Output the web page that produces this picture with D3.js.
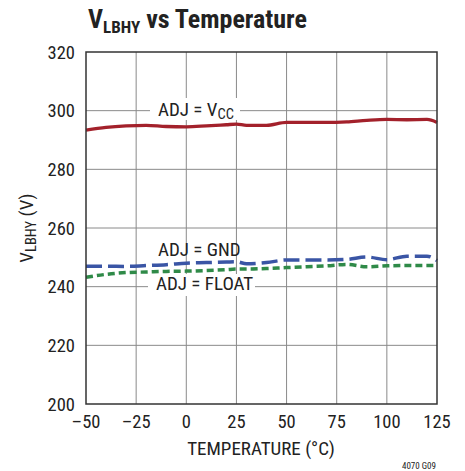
<!DOCTYPE html>
<html>
<head>
<meta charset="utf-8">
<script src="https://cdn.jsdelivr.net/npm/d3@7"></script>
<style>
  body { margin: 0; background: #fff; }
  text { font-family: "Liberation Sans Narrow", "Roboto Condensed", "Liberation Sans", sans-serif; fill: #222; }
</style>
</head>
<body>
<svg id="chart" width="465" height="471"></svg>
<script>
// Data
const temps = [-50, -40, -30, -20, -10, 0, 10, 20, 25, 30, 40, 50, 60, 70, 80, 90, 100, 110, 120, 125];
const vccSeries = [293.4, 294.3, 294.8, 295.0, 294.6, 294.5, 294.8, 295.2, 295.4, 295.0, 295.0, 296.0, 296.0, 296.0, 296.2, 296.7, 297.0, 296.9, 297.0, 296.0];
const gndSeries = [247.0, 247.0, 246.9, 247.2, 247.5, 248.0, 248.2, 248.4, 248.5, 247.8, 248.2, 249.1, 249.1, 249.1, 249.3, 250.1, 249.2, 250.4, 250.4, 248.9];
const floatSeries = [243.2, 244.2, 244.8, 245.0, 245.2, 245.3, 245.5, 245.8, 246.0, 246.0, 246.2, 246.5, 246.8, 247.1, 247.6, 246.8, 247.1, 247.2, 247.2, 247.2];
const xTicks = [-50, -25, 0, 25, 50, 75, 100, 125];
const yTicks = [200, 220, 240, 260, 280, 300, 320];

const svg = d3.select("#chart");

const plotL = 86, plotR = 437, plotT = 52, plotB = 404;

const x = d3.scaleLinear().domain([-50, 125]).range([plotL, plotR]);
const y = d3.scaleLinear().domain([200, 320]).range([plotB, plotT]);

// Grid
svg.append("g")
  .selectAll("line")
  .data(xTicks.slice(1, -1))
  .join("line")
  .attr("x1", d => x(d)).attr("x2", d => x(d))
  .attr("y1", plotT).attr("y2", plotB)
  .attr("stroke", "#8a8a8a").attr("stroke-width", 1);

svg.append("g")
  .selectAll("line")
  .data(yTicks.slice(1, -1))
  .join("line")
  .attr("x1", plotL).attr("x2", plotR)
  .attr("y1", d => y(d)).attr("y2", d => y(d))
  .attr("stroke", "#8a8a8a").attr("stroke-width", 1);

// Series lines
const line = d3.line()
  .x((d, i) => x(temps[i]))
  .y(d => y(d))
  .curve(d3.curveMonotoneX);

svg.append("path").datum(vccSeries)
  .attr("d", line).attr("fill", "none")
  .attr("stroke", "#a3212b").attr("stroke-width", 3.3);

svg.append("path").datum(gndSeries)
  .attr("d", line).attr("fill", "none")
  .attr("stroke", "#3a55a5").attr("stroke-width", 3.5)
  .attr("stroke-dasharray", "16,6");

svg.append("path").datum(floatSeries)
  .attr("d", line).attr("fill", "none")
  .attr("stroke", "#2f8a48").attr("stroke-width", 3.5)
  .attr("stroke-dasharray", "7,4");

// Frame
svg.append("rect")
  .attr("x", plotL).attr("y", plotT)
  .attr("width", plotR - plotL).attr("height", plotB - plotT)
  .attr("fill", "none").attr("stroke", "#333").attr("stroke-width", 1.5);

// Series labels (white boxes interrupt the grid)
function label(tx, ty, parts, box) {
  if (box) {
    svg.append("rect")
      .attr("x", box[0]).attr("y", box[1])
      .attr("width", box[2]).attr("height", box[3])
      .attr("fill", "#fff");
  }
  const t = svg.append("text")
    .attr("x", tx).attr("y", ty)
    .attr("font-size", "19px");
  parts.forEach(p => {
    t.append("tspan")
      .attr("font-size", p.sub ? "14.5px" : null)
      .attr("dy", p.dy || 0)
      .text(p.t);
  });
}

label(158, 116, [{ t: "ADJ = V" }, { t: "CC", sub: true, dy: 3 }], [150, 98, 90, 22]);
label(158, 256, [{ t: "ADJ = GND" }], null);
label(156, 290, [{ t: "ADJ = FLOAT" }], [148, 274, 107, 22]);

// Axis tick labels
svg.append("g")
  .selectAll("text")
  .data(yTicks)
  .join("text")
  .attr("x", 75).attr("y", d => y(d) + 6.5)
  .attr("text-anchor", "end")
  .attr("font-size", "18.5px")
  .text(d => d);

svg.append("g")
  .selectAll("text")
  .data(xTicks)
  .join("text")
  .attr("x", d => x(d)).attr("y", 428)
  .attr("text-anchor", "middle")
  .attr("font-size", "18.5px")
  .text(d => d < 0 ? "\u2013" + Math.abs(d) : d);

// Axis titles
svg.append("text")
  .attr("x", 261).attr("y", 455)
  .attr("text-anchor", "middle")
  .attr("font-size", "19px")
  .text("TEMPERATURE (\u00b0C)");

const yt = svg.append("text")
  .attr("transform", "translate(33,228) rotate(-90)")
  .attr("text-anchor", "middle")
  .attr("font-size", "19px");
yt.append("tspan").text("V");
yt.append("tspan").attr("font-size", "14.5px").attr("dy", 3).text("LBHY");
yt.append("tspan").attr("dy", -3).text(" (V)");

// Title
const title = svg.append("text")
  .attr("x", 88).attr("y", 28)
  .attr("font-size", "26px")
  .attr("font-weight", "bold");
title.append("tspan").text("V");
title.append("tspan").attr("font-size", "17px").attr("dy", 5).text("LBHY");
title.append("tspan").attr("dy", -5).text(" vs Temperature");

// Figure code
svg.append("text")
  .attr("x", 436).attr("y", 469)
  .attr("text-anchor", "end")
  .attr("font-size", "9px")
  .text("4070 G09");
</script>
</body>
</html>
